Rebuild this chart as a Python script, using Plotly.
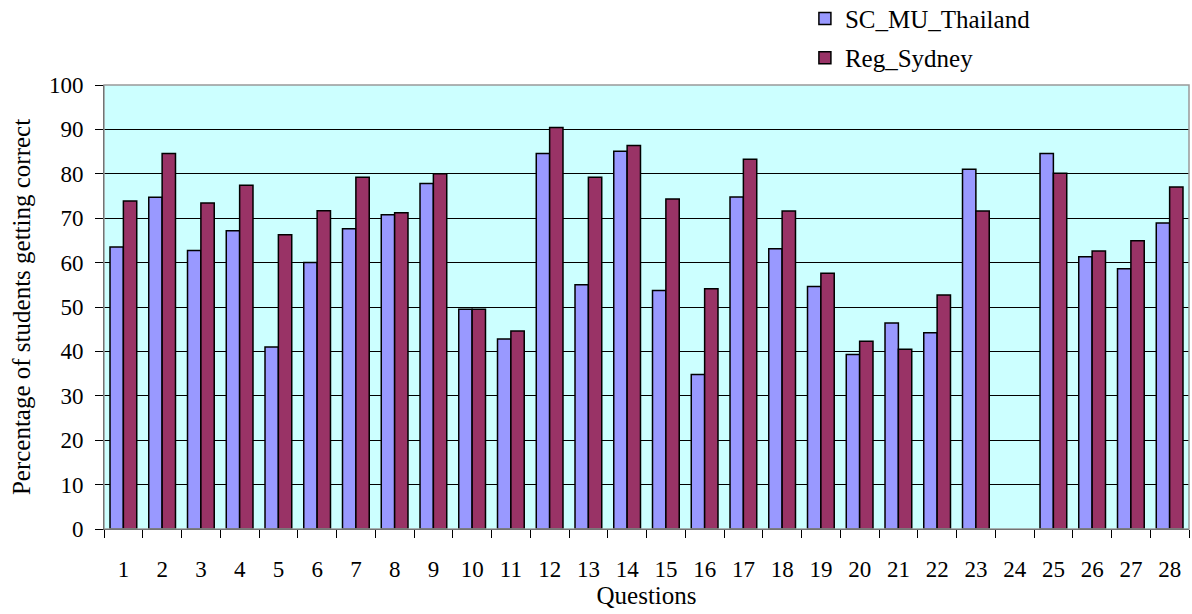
import plotly.graph_objects as go

questions = [str(i) for i in range(1, 29)]
sc_mu_thailand = [63.5, 74.7, 62.7, 67.2, 41.0, 60.0, 67.6, 70.8, 77.8, 49.5,
                  42.8, 84.6, 55.0, 85.1, 53.7, 34.8, 74.8, 63.1, 54.6, 39.3,
                  46.4, 44.2, 81.0, None, 84.6, 61.3, 58.6, 68.9]
reg_sydney = [73.9, 84.6, 73.4, 77.4, 66.3, 71.7, 79.2, 71.2, 80.0, 49.5,
              44.6, 90.4, 79.2, 86.4, 74.3, 54.1, 83.3, 71.6, 57.6, 42.3,
              40.5, 52.7, 71.6, None, 80.1, 62.6, 64.9, 77.0]
y_ticks = list(range(0, 101, 10))

FONT = "Liberation Serif, Times New Roman, serif"
TICK_SIZE = 23
TITLE_SIZE = 25

fig = go.Figure()
fig.add_trace(go.Bar(
    x=questions, y=sc_mu_thailand, name="SC_MU_Thailand",
    marker=dict(color="#9999FF", line=dict(color="black", width=1.5)),
    legend="legend",
))
fig.add_trace(go.Bar(
    x=questions, y=reg_sydney, name="Reg_Sydney",
    marker=dict(color="#993366", line=dict(color="black", width=1.5)),
    legend="legend2",
))

legend_common = dict(
    xref="paper", yref="paper", xanchor="left", yanchor="middle",
    font=dict(family=FONT, size=TITLE_SIZE, color="black"),
    bgcolor="rgba(0,0,0,0)", borderwidth=0, visible=True,
)

fig.update_layout(
    width=1192, height=614,
    showlegend=True,
    margin=dict(l=104, r=3, t=85, b=85, autoexpand=False),
    paper_bgcolor="white",
    plot_bgcolor="#CCFFFF",
    barmode="group", bargap=0.31, bargroupgap=0,
    font=dict(family=FONT, size=TICK_SIZE, color="black"),
    legend=dict(x=0.646, y=1.149, **legend_common),
    legend2=dict(x=0.646, y=1.061, **legend_common),
    xaxis=dict(
        type="category",
        title=dict(text="Questions", font=dict(size=TITLE_SIZE), standoff=5),
        ticks="outside", tickson="boundaries", ticklen=8, tickcolor="black",
        showline=True, linecolor="black", linewidth=1,
        showgrid=False, ticklabelstandoff=19, tickangle=0,
        tickfont=dict(size=TICK_SIZE),
    ),
    yaxis=dict(
        range=[0, 100], tickvals=y_ticks,
        title=dict(text="Percentage of students getting correct", font=dict(size=TITLE_SIZE), standoff=11),
        ticks="outside", ticklen=8, tickcolor="black",
        showline=True, linecolor="black", linewidth=1,
        showgrid=True, gridcolor="black", gridwidth=1,
        zeroline=False, ticklabelstandoff=7,
        tickfont=dict(size=TICK_SIZE),
    ),
    shapes=[dict(type="rect", xref="paper", yref="paper", x0=0, x1=1, y0=0, y1=1,
                 line=dict(color="#999999", width=1.5), layer="above")],
)

fig.write_html("out.html", config={"displayModeBar": False},
               post_script="document.body.style.margin='0';")
